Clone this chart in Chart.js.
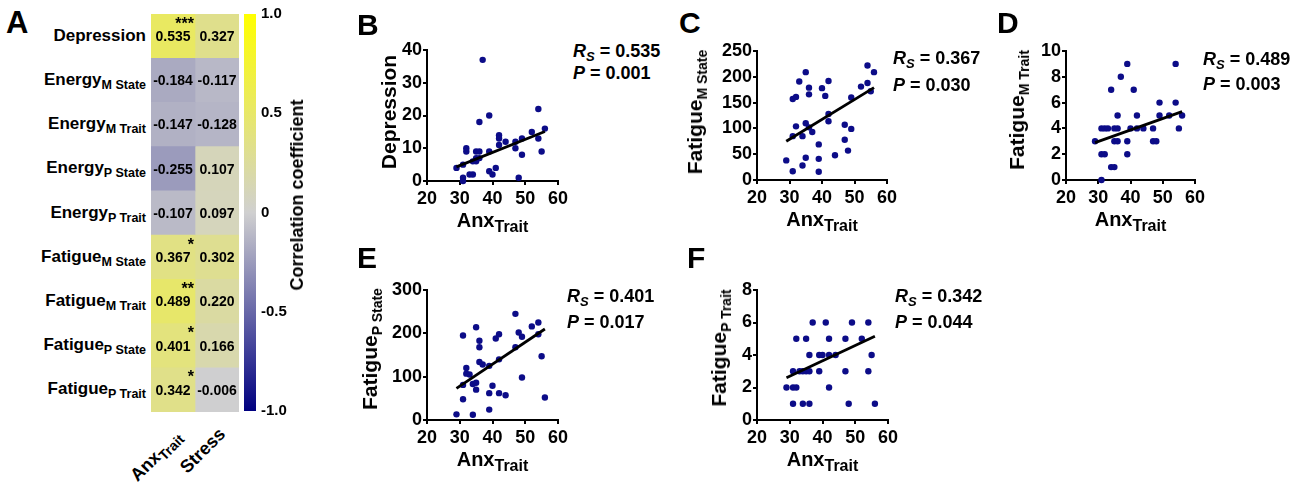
<!DOCTYPE html>
<html>
<head>
<meta charset="utf-8">
<script src="https://cdn.jsdelivr.net/npm/chart.js@4.4.1/dist/chart.umd.min.js"></script>
<style>
  body { margin:0; width:1301px; height:482px; background:#fff; position:relative; overflow:hidden;
    font-family:'Liberation Sans', Arial, sans-serif; font-weight:bold; color:#000; }
  canvas { position:absolute; }
  .t { position:absolute; white-space:nowrap; }
  .sb { position:relative; }
</style>
</head>
<body>
<script>
// ---- panel A : correlation heatmap ----
const rowNames = ['Depression','Energy','Energy','Energy','Energy','Fatigue','Fatigue','Fatigue','Fatigue'];
const rowSubs  = ['','M State','M Trait','P State','P Trait','M State','M Trait','P State','P Trait'];
const colNames = ['Anx','Stress'];
const colSubs  = ['Trait',''];
const rAnx    = [0.535,-0.184,-0.147,-0.255,-0.107,0.367,0.489,0.401,0.342];
const rStress = [0.327,-0.117,-0.128,0.107,0.097,0.302,0.220,0.166,-0.006];
const sigAnx  = ['***','','','','','*','**','*','*'];
const cbTicks    = [-1,-0.5,0,0.5,1];
const cbTickText = ['-1.0','-0.5','0','0.5','1.0'];

// ---- panels B-F : scatter plots vs AnxTrait ----
const anxB = [29,31,31,31,32,32,33,34,34,35,35,35,36,36,36,37,39,39,39,40,41,42,42,42,44,47,47,48,49,49,52,54,54,55,56];
const depB = [4,1,0,5,10,9,2,2,6,6,7,9,18,9,7,37,20,9,3,2,4,14,13,11,12,12,10,1,13,8,15,22,13,9,16];
const anxC = [29,31,31,31,32,32,33,34,34,35,35,35,36,36,36,37,39,39,39,40,41,42,42,42,44,47,47,48,49,49,52,54,54,55,56];
const fatMStateC = [38,17,157,85,161,104,191,85,28,209,110,43,179,166,102,93,69,41,16,178,163,192,128,114,48,107,78,57,160,99,181,222,188,172,209];
const anxD = [29,31,31,31,32,32,33,34,34,35,35,35,36,36,36,37,39,39,39,40,41,42,42,44,47,47,48,49,49,52,54,54,55,56];
const fatMTraitD = [3,4,2,0,4,2,4,7,1,4,3,1,5,4,3,8,9,3,2,4,7,5,4,4,4,3,3,6,5,5,9,6,4,5];
const anxE = [29,31,31,31,32,32,33,34,34,35,35,35,36,36,36,37,39,39,39,40,41,42,42,42,44,47,47,48,49,49,52,54,54,55,56];
const fatPStateE = [13,195,81,48,120,107,105,83,12,214,86,70,183,168,134,128,125,62,24,79,188,198,140,62,57,245,168,202,192,98,216,225,198,147,52];
const anxF = [29,31,31,31,32,32,33,34,34,35,35,36,36,36,37,39,39,40,41,42,42,42,44,47,47,48,49,52,54,54,55,56];
const fatPTraitF = [2,3,2,1,5,2,3,3,1,5,3,4,3,1,6,4,3,4,6,5,4,2,4,5,3,1,6,5,6,3,4,1];

// regression line ends
const fitX = [29,56];
const fitB = [4.3,15.1];
const fitC = [75,179];
const fitD = [2.9,5.3];
const fitE = [73,210];
const fitF = [2.6,5.15];

const yTitles = ['Depression','Fatigue','Fatigue','Fatigue','Fatigue'];
const ySubs   = ['','M State','M Trait','P State','P Trait'];
const rsText  = ['0.535','0.367','0.489','0.401','0.342'];
const pText   = ['0.001','0.030','0.003','0.017','0.044'];
const yMaxes  = [40,250,10,300,8];
const ySteps  = [10,50,2,100,2];

const FONT = "'Liberation Sans', Arial, sans-serif";
Chart.defaults.font.family = FONT;
Chart.defaults.font.weight = 'bold';
Chart.defaults.color = '#000';

function txt(html, css) {
  const d = document.createElement('div');
  d.className = 't';
  d.innerHTML = html;
  Object.assign(d.style, css);
  document.body.appendChild(d);
  return d;
}
function sub(s, size, dy) {
  return s ? `<span class="sb" style="font-size:${size}px;top:${dy}px">${s}</span>` : '';
}
function mkCanvas(x, y, w, h) {
  const c = document.createElement('canvas');
  c.width = w; c.height = h;
  c.style.left = x + 'px'; c.style.top = y + 'px';
  document.body.appendChild(c);
  return c;
}

const gray = [208,208,208], yel = [255,255,0], navy = [0,0,128];
function heatColor(v) {
  const end = v >= 0 ? yel : navy, t = Math.abs(v);
  return 'rgb(' + gray.map((a, k) => Math.round(a + (end[k] - a) * t)).join(',') + ')';
}

// ---------- heatmap ----------
const hm = {x:151, y:14, w:88, h:398};
const cellText = {
  id: 'cellText',
  afterDatasetsDraw(chart) {
    const ctx = chart.ctx;
    ctx.save();
    ctx.fillStyle = '#000';
    chart.data.datasets.forEach((ds, di) => {
      chart.getDatasetMeta(di).data.forEach((bar, i) => {
        ctx.font = 'bold 14px ' + FONT;
        ctx.textAlign = 'center';
        ctx.textBaseline = 'middle';
        ctx.fillText(ds.vals[i].toFixed(3), (bar.x + bar.base) / 2, bar.y + 1);
        if (ds.sig && ds.sig[i]) {
          ctx.font = 'bold 16px ' + FONT;
          ctx.textAlign = 'right';
          ctx.textBaseline = 'top';
          ctx.fillText(ds.sig[i], bar.x - 1, bar.y - 20);
        }
      });
    });
    ctx.restore();
  }
};
new Chart(mkCanvas(hm.x, hm.y, hm.w, hm.h), {
  type: 'bar',
  data: {
    labels: rowNames.map((n, i) => n + ' ' + rowSubs[i]),
    datasets: [
      { data: rAnx.map(() => 1), vals: rAnx, sig: sigAnx,
        backgroundColor: c => heatColor(rAnx[c.dataIndex]) },
      { data: rStress.map(() => 1), vals: rStress,
        backgroundColor: c => heatColor(rStress[c.dataIndex]) }
    ]
  },
  options: {
    indexAxis: 'y', responsive: false, animation: false,
    datasets: { bar: { barPercentage: 1, categoryPercentage: 1, borderWidth: 0 } },
    layout: { padding: 0 },
    plugins: { legend: {display:false}, tooltip: {enabled:false} },
    scales: {
      x: { stacked: true, min: 0, max: 2, display: false },
      y: { stacked: true, display: false }
    }
  },
  plugins: [cellText]
});

const rowH = hm.h / rowNames.length;
rowNames.forEach((n, i) => {
  const cy = hm.y + rowH * (i + 0.5);
  txt(n + sub(rowSubs[i], 12.5, 4), { right: (1301 - 146) + 'px', top: (cy - 9.5) + 'px',
    fontSize: '17px', lineHeight: '17px' });
});
const colAnchors = [[179, 433], [222, 431]];
colNames.forEach((n, i) => {
  txt(n + sub(colSubs[i], 14, 4), { right: (1301 - colAnchors[i][0]) + 'px', top: (colAnchors[i][1] - 10) + 'px',
    fontSize: '18px', lineHeight: '20px', transformOrigin: '100% 50%', transform: 'rotate(-45deg)' });
});

// ---------- colour bar ----------
new Chart(mkCanvas(244, 0, 60, 425), {
  type: 'bar',
  data: { labels: [''], datasets: [{ data: [[-1, 1]], borderWidth: 0,
    backgroundColor: c => {
      const a = c.chart.chartArea;
      if (!a) return 'rgb(208,208,208)';
      const g = c.chart.ctx.createLinearGradient(0, a.bottom, 0, a.top);
      g.addColorStop(0, heatColor(-1));
      g.addColorStop(0.5, heatColor(0));
      g.addColorStop(1, heatColor(1));
      return g;
    } }] },
  options: {
    responsive: false, animation: false,
    datasets: { bar: { barPercentage: 1, categoryPercentage: 1 } },
    layout: { padding: { top: 13, bottom: 13 } },
    plugins: { legend: {display:false}, tooltip: {enabled:false} },
    scales: {
      x: { display: false },
      y: { position: 'right', min: -1, max: 1,
        afterFit: s => { s.width = 48; },
        afterBuildTicks: s => { s.ticks = cbTicks.map(v => ({ value: v })); },
        ticks: { padding: 5, font: { size: 15, weight: 'bold' },
          callback: v => cbTickText[cbTicks.indexOf(v)] },
        grid: { display: false, drawTicks: false },
        border: { display: false } }
    }
  }
});
txt('Correlation coefficient', { left: '297px', top: '195px', fontSize: '18px', lineHeight: '18px',
  transform: 'translate(-50%,-50%) rotate(-90deg)' });

// ---------- scatter panels ----------
const panels = [
  { letter: 'B', lx: 357, ly: 10, box: {x:427, y:50, w:131, h:131}, ytx: 388, yty: 112, ax: 573, ab: [57, 79], xs: anxB, ys: depB, fit: fitB },
  { letter: 'C', lx: 679, ly: 8,  box: {x:757, y:51, w:130, h:129}, ytx: 696, yty: 112, ax: 893, ab: [64, 91], xs: anxC, ys: fatMStateC, fit: fitC },
  { letter: 'D', lx: 997, ly: 8,  box: {x:1066, y:51, w:129, h:129}, ytx: 1018, yty: 110, ax: 1203, ab: [65, 90], xs: anxD, ys: fatMTraitD, fit: fitD },
  { letter: 'E', lx: 357, ly: 243, box: {x:427, y:290, w:131, h:130}, ytx: 371, yty: 349, ax: 567, ab: [302, 328], xs: anxE, ys: fatPStateE, fit: fitE },
  { letter: 'F', lx: 687, ly: 243, box: {x:757, y:290, w:131, h:130}, ytx: 720, yty: 348, ax: 895, ab: [302, 328], xs: anxF, ys: fatPTraitF, fit: fitF }
];
const dotColor = '#0c0c88';

txt('A', { left: '6px', top: '8px', fontSize: '31px', lineHeight: '30px' });

panels.forEach((p, k) => {
  const b = p.box, pl = 52, pt = 12, pr = 14, pb = 30;
  const cv = mkCanvas(b.x - pl, b.y - pt, pl + b.w + pr, pt + b.h + pb);
  const axisGrid = { display: true, drawOnChartArea: false, drawTicks: true, tickLength: 4, color: '#000', lineWidth: 2 };
  new Chart(cv, {
    type: 'scatter',
    data: { datasets: [
      { data: fitX.map((x, i) => ({ x, y: p.fit[i] })), showLine: true, borderColor: '#000',
        borderWidth: 2.8, pointRadius: 0, clip: false },
      { data: p.xs.map((x, i) => ({ x, y: p.ys[i] })), backgroundColor: dotColor,
        pointRadius: 3.2, borderWidth: 0, clip: false }
    ] },
    options: {
      responsive: false, animation: false,
      layout: { padding: { top: pt, right: pr, left: 0, bottom: 0 } },
      plugins: { legend: {display:false}, tooltip: {enabled:false} },
      scales: {
        x: { type: 'linear', min: 20, max: 60, afterFit: s => { s.height = pb; },
          ticks: { stepSize: 10, padding: 3, font: { size: 18, weight: 'bold' } },
          grid: axisGrid, border: { display: true, color: '#000', width: 2 } },
        y: { min: 0, max: yMaxes[k], afterFit: s => { s.width = pl; },
          ticks: { stepSize: ySteps[k], padding: 1, font: { size: 18, weight: 'bold' } },
          grid: axisGrid, border: { display: true, color: '#000', width: 2 } }
      }
    }
  });
  txt(p.letter, { left: p.lx + 'px', top: p.ly + 'px', fontSize: '30px', lineHeight: '30px' });
  txt(yTitles[k] + sub(ySubs[k], 14, 5), { left: p.ytx + 'px', top: p.yty + 'px', fontSize: '21px', lineHeight: '21px',
    transform: 'translate(-50%,-50%) rotate(-90deg)' });
  txt('Anx' + sub('Trait', 16, 5), { left: (b.x + b.w / 2) + 'px', top: (b.y + b.h + 46 - 17) + 'px',
    fontSize: '20px', lineHeight: '20px', transform: 'translateX(-50%)' });
  txt('<i>R</i>' + '<i class="sb" style="font-size:13px;top:4px">S</i> = ' + rsText[k],
    { left: p.ax + 'px', top: (p.ab[0] - 15) + 'px', fontSize: '18px', lineHeight: '18px' });
  txt('<i>P</i> = ' + pText[k],
    { left: p.ax + 'px', top: (p.ab[1] - 15) + 'px', fontSize: '18px', lineHeight: '18px' });
});
</script>
</body>
</html>
